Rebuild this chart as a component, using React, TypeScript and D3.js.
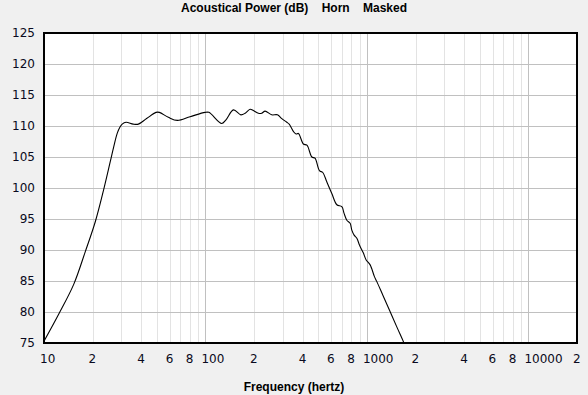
import { useEffect, useRef } from 'react';
import * as d3 from 'd3';

// frequency (Hz) and level (dB)
const freqs = [
  10, 12.3, 15.3, 18.0, 20.8, 23.4, 25.7, 27.0, 28.4, 29.5, 30.5, 32.2, 35.7, 38.4, 43.2, 49.4, 51.8,
  58.9, 67.0, 80.3, 99.4, 105, 126, 134, 149, 165.6, 176, 189, 198, 212.8, 223, 234, 257, 279,
  297, 319, 330, 351, 364, 376.5, 404, 425, 456, 477, 508, 533, 564, 606, 651, 699, 722, 751,
  787, 806, 833, 866, 899, 930, 951, 989, 1047, 1113, 1152, 1265, 1393, 1531, 1683, 1700,
];
const levels = [
  75.3, 79.6, 84.5, 89.7, 94.6, 99.7, 104.2, 106.6, 108.8, 109.8, 110.3, 110.6, 110.3, 110.3, 111.2, 112.2, 112.2,
  111.4, 110.9, 111.5, 112.2, 112.2, 110.4, 111.0, 112.6, 111.8, 112.05, 112.7, 112.5, 112.05, 112.05, 112.4, 111.8, 111.8,
  111.2, 110.6, 110.3, 109.1, 108.7, 108.8, 107.1, 106.9, 105.0, 104.8, 102.8, 102.5, 101.0, 99.1, 97.3, 97.0, 95.9, 94.8,
  94.3, 93.2, 92.4, 91.9, 90.8, 90.0, 89.5, 88.4, 87.6, 85.7, 84.9, 82.5, 80.05, 77.6, 75.2, 74.9,
];

const yTicks = [75, 80, 85, 90, 95, 100, 105, 110, 115, 120, 125];
const decades = [10, 100, 1000, 10000];
const xTickValues = [10, 20, 40, 60, 80, 100, 200, 400, 600, 800, 1000, 2000, 4000, 6000, 8000, 10000, 20000];
const xTickLabels = ['10', '2', '4', '6', '8', '100', '2', '4', '6', '8', '1000', '2', '4', '6', '8', '10000', '2'];

const title = 'Acoustical Power (dB)    Horn    Masked';
const xTitle = 'Frequency (hertz)';

export default function App() {
  const ref = useRef<SVGSVGElement | null>(null);

  useEffect(() => {
    if (!ref.current) return;
    document.body.style.margin = '0';

    const svg = d3.select(ref.current);
    svg.selectAll('*').remove();

    const width = 588;
    const height = 395;
    const margin = { top: 33, right: 11, bottom: 52, left: 44 };
    const innerWidth = width - margin.left - margin.right;
    const innerHeight = height - margin.top - margin.bottom;
    const font = '"DejaVu Sans", Verdana, sans-serif';

    svg.append('rect').attr('width', width).attr('height', height).attr('fill', '#f0f0f0');

    const x = d3.scaleLog().domain([10, 20000]).range([0, innerWidth]);
    const y = d3.scaleLinear().domain([75, 125]).range([innerHeight, 0]);

    const g = svg.append('g').attr('transform', `translate(${margin.left},${margin.top})`);

    g.append('rect').attr('width', innerWidth).attr('height', innerHeight).attr('fill', '#fff');

    // minor vertical grid: 2..9 in every decade
    const minor: number[] = [];
    decades.forEach((d) => {
      for (let k = 2; k <= 9; k++) {
        if (d * k < 20000) minor.push(d * k);
      }
    });

    g.append('g')
      .selectAll('line')
      .data(minor)
      .join('line')
      .attr('x1', (d) => Math.round(x(d)) + 0.5)
      .attr('x2', (d) => Math.round(x(d)) + 0.5)
      .attr('y1', 0)
      .attr('y2', innerHeight)
      .attr('stroke', '#e3e3e3');

    g.append('g')
      .selectAll('line')
      .data(decades.slice(1))
      .join('line')
      .attr('x1', (d) => Math.round(x(d)) + 0.5)
      .attr('x2', (d) => Math.round(x(d)) + 0.5)
      .attr('y1', 0)
      .attr('y2', innerHeight)
      .attr('stroke', '#c0c0c0');

    g.append('g')
      .selectAll('line')
      .data(yTicks.slice(1, -1))
      .join('line')
      .attr('x1', 0)
      .attr('x2', innerWidth)
      .attr('y1', (d) => Math.round(y(d)) + 0.5)
      .attr('y2', (d) => Math.round(y(d)) + 0.5)
      .attr('stroke', '#c0c0c0');

    g.append('clipPath')
      .attr('id', 'plot-clip')
      .append('rect')
      .attr('width', innerWidth)
      .attr('height', innerHeight);

    const pts = freqs.map((f, i) => [f, levels[i]] as [number, number]);
    const line = d3
      .line<[number, number]>()
      .x((d) => x(d[0]))
      .y((d) => y(d[1]))
      .curve(d3.curveCatmullRom.alpha(0.5));

    g.append('path')
      .attr('d', line(pts)!)
      .attr('clip-path', 'url(#plot-clip)')
      .attr('fill', 'none')
      .attr('stroke', '#000')
      .attr('stroke-width', 1.1);

    g.append('rect')
      .attr('width', innerWidth)
      .attr('height', innerHeight)
      .attr('fill', 'none')
      .attr('stroke', '#000')
      .attr('stroke-width', 2);

    // y labels
    g.append('g')
      .selectAll('text')
      .data(yTicks)
      .join('text')
      .attr('x', -9)
      .attr('y', (d) => y(d))
      .attr('dy', '0.35em')
      .attr('text-anchor', 'end')
      .attr('font-family', font)
      .attr('font-size', 12)
      .attr('fill', '#0a0a20')
      .text((d) => d);

    // x labels: first glyph sits on the tick
    g.append('g')
      .selectAll('text')
      .data(xTickValues)
      .join('text')
      .attr('x', (d) => x(d) - 4)
      .attr('y', innerHeight + 16)
      .attr('dy', '0.35em')
      .attr('font-family', font)
      .attr('font-size', 12)
      .attr('fill', '#0a0a20')
      .text((_, i) => xTickLabels[i]);

    svg.append('text')
      .attr('x', 294)
      .attr('y', 8)
      .attr('dy', '0.35em')
      .attr('text-anchor', 'middle')
      .attr('font-family', '"Liberation Sans", Arial, sans-serif')
      .attr('font-weight', 'bold')
      .attr('font-size', 12)
      .style('white-space', 'pre')
      .text(title);

    svg.append('text')
      .attr('x', 294)
      .attr('y', 387)
      .attr('dy', '0.35em')
      .attr('text-anchor', 'middle')
      .attr('font-family', '"Liberation Sans", Arial, sans-serif')
      .attr('font-weight', 'bold')
      .attr('font-size', 12)
      .text(xTitle);
  }, []);

  return <svg ref={ref} width={588} height={395} style={{ display: 'block' }}></svg>;
}
